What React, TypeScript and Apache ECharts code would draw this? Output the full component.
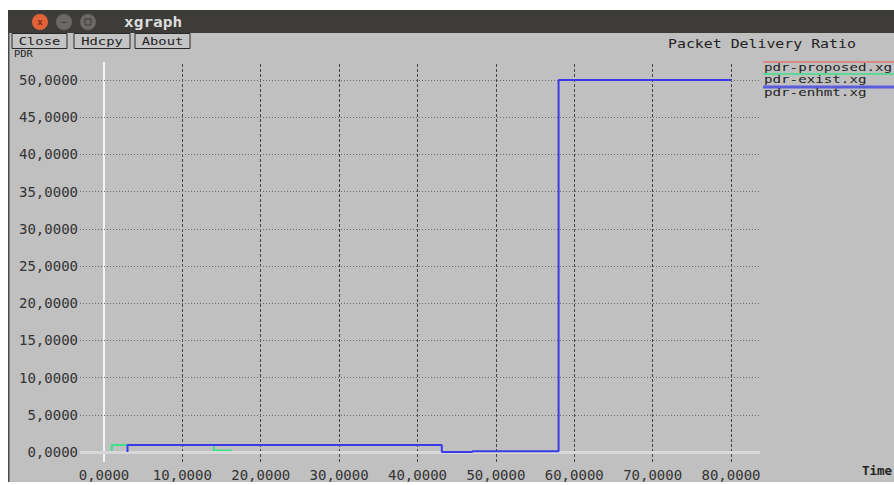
import React, { useEffect, useRef } from "react";
import * as echarts from "echarts";

const xTicks = [0, 10, 20, 30, 40, 50, 60, 70, 80];
const yTicks = [0, 5, 10, 15, 20, 25, 30, 35, 40, 45, 50];

const seriesNames = ["pdr-proposed.xg", "pdr-exist.xg", "pdr-enhmt.xg"];
const seriesColors = ["#e07878", "#3ce08a", "#3a3ae8"];

const proposedX = [58, 80];
const proposedY = [0, 0];
const existX = [1, 1, 14, 14, 16.3];
const existY = [0, 0.95, 0.95, 0.2, 0.2];
const enhmtX = [3, 3, 43.1, 43.1, 47, 47, 58, 58, 80];
const enhmtY = [0, 0.95, 0.95, 0, 0, 0.1, 0.1, 50, 50];

const title = "Packet Delivery Ratio";
const yName = "PDR";
const xName = "Time";
const buttons = ["Close", "Hdcpy", "About"];

const MONO = "'DejaVu Sans Mono', 'Liberation Mono', monospace";
const fmt = (v: number) => v.toFixed(4).replace(".", ",");
const pairs = (xs: number[], ys: number[]) => xs.map((x, i) => [x, ys[i]]);

export default function App() {
  const ref = useRef<HTMLDivElement>(null);
  useEffect(() => {
    if (!ref.current) return;
    const chart = echarts.init(ref.current, undefined, { renderer: "svg" });
    const datas = [pairs(proposedX, proposedY), pairs(existX, existY), pairs(enhmtX, enhmtY)];

    const graphics: any[] = [
      // window background
      { type: "rect", z: -100, shape: { x: 8, y: 10, width: 886, height: 472 }, style: { fill: "#c0c0c0" }, silent: true },
      { type: "rect", z: -99, shape: { x: 8, y: 10, width: 1.5, height: 472 }, style: { fill: "#4a4a4a" }, silent: true },
      // title bar
      { type: "rect", z: 50, shape: { x: 8, y: 10, width: 886, height: 23 }, style: { fill: "#3d3c38" }, silent: true },
      { type: "circle", z: 51, shape: { cx: 40, cy: 22, r: 8 }, style: { fill: "#e2633a" } },
      { type: "text", z: 52, x: 40, y: 22, style: { text: "x", fill: "#7a2a14", font: "bold 9px sans-serif", align: "center", verticalAlign: "middle" } },
      { type: "circle", z: 51, shape: { cx: 64, cy: 22, r: 8 }, style: { fill: "#6a6965" } },
      { type: "text", z: 52, x: 64, y: 22, style: { text: "–", fill: "#3d3c38", font: "bold 9px sans-serif", align: "center", verticalAlign: "middle" } },
      { type: "circle", z: 51, shape: { cx: 88, cy: 22, r: 8 }, style: { fill: "#6a6965" } },
      { type: "rect", z: 52, shape: { x: 85, y: 19, width: 6, height: 6 }, style: { fill: "none", stroke: "#3d3c38", lineWidth: 1 } },
      { type: "text", z: 52, x: 124, y: 22, scaleX: 1.15, style: { text: "xgraph", fill: "#dcdcdc", font: `bold 14px ${MONO}`, align: "left", verticalAlign: "middle" } },
      // y name (just below buttons)
      { type: "text", z: 40, x: 14, y: 49.5, scaleX: 1.3, style: { text: yName, fill: "#222", font: `8px ${MONO}`, align: "left", verticalAlign: "top" } },
      // title
      { type: "text", z: 40, x: 668, y: 44, scaleX: 1.24, style: { text: title, fill: "#222", font: `12px ${MONO}`, align: "left", verticalAlign: "middle" } },
      // x name
      { type: "text", z: 40, x: 862, y: 471, scaleX: 1.04, style: { text: xName, fill: "#222", font: `bold 12px ${MONO}`, align: "left", verticalAlign: "middle" } },
    ];
    const bx = [12, 74, 135];
    const bw = [55, 56, 55];
    buttons.forEach((b, i) => {
      graphics.push({ type: "rect", z: 45, shape: { x: bx[i], y: 33.5, width: bw[i], height: 15 }, style: { fill: "#c4c4c4", stroke: "#2a2a2a", lineWidth: 1 } });
      graphics.push({ type: "text", z: 46, x: bx[i] + bw[i] / 2, y: 41.5, scaleX: 1.25, style: { text: b, fill: "#222", font: `11px ${MONO}`, align: "center", verticalAlign: "middle" } });
    });
    // legend
    const legY = [62, 74, 87];
    seriesNames.forEach((n, i) => {
      graphics.push({ type: "line", z: 40, shape: { x1: 763, y1: legY[i], x2: 894, y2: legY[i] }, style: { stroke: seriesColors[i], lineWidth: i === 2 ? 3 : 2, opacity: 0.75 } });
      graphics.push({ type: "text", z: 40, x: 764, y: legY[i] + 5.5, scaleX: 1.29, style: { text: n, fill: "#222", font: `11px ${MONO}`, align: "left", verticalAlign: "middle", lineHeight: 11 } });
    });

    const gridMarkLines = [
      ...xTicks.map((v) => ({
        xAxis: v,
        lineStyle: v === 0 ? { color: "#f4f4f4", width: 2, type: "solid" } : { color: "#454545", width: 1, type: [3, 2] },
      })),
      ...yTicks.map((v) => ({
        yAxis: v,
        lineStyle: v === 0 ? { color: "#d8d8d8", width: 3, type: "solid" } : { color: "#6a6a6a", width: 1, type: [1, 2] },
      })),
    ];

    const option: any = {
      animation: false,
      backgroundColor: "#ffffff",
      grid: { left: 80, right: 134, top: 62, bottom: 23, containLabel: false },
      xAxis: {
        type: "value",
        min: -3.062,
        max: 83.7,
        axisLine: { show: false },
        axisTick: { show: false },
        splitLine: { show: false },
        axisLabel: {
          customValues: xTicks,
          formatter: (v: number) => fmt(v),
          color: "#333",
          fontFamily: MONO,
          fontSize: 14,
          margin: 6,
        },
      },
      yAxis: {
        type: "value",
        min: -1.344,
        max: 52.42,
        axisLine: { show: false },
        axisTick: { show: false },
        splitLine: { show: false },
        axisLabel: {
          customValues: yTicks,
          formatter: (v: number) => fmt(v),
          color: "#333",
          fontFamily: MONO,
          fontSize: 14,
          margin: 2,
        },
      },
      graphic: graphics,
      series: [
        {
          type: "line",
          name: "grid",
          data: [],
          silent: true,
          z: 1,
          markLine: { silent: true, symbol: "none", label: { show: false }, data: gridMarkLines },
        },
        ...seriesNames.map((n, i) => ({
          type: "line",
          name: n,
          data: datas[i],
          showSymbol: false,
          z: 3 + i,
          lineStyle: { color: seriesColors[i], width: 2 },
          itemStyle: { color: seriesColors[i] },
        })),
      ],
    };
    chart.setOption(option);
    return () => chart.dispose();
  }, []);
  return <div ref={ref} style={{ position: "fixed", left: 0, top: 0, width: 894, height: 485 }} />;
}
